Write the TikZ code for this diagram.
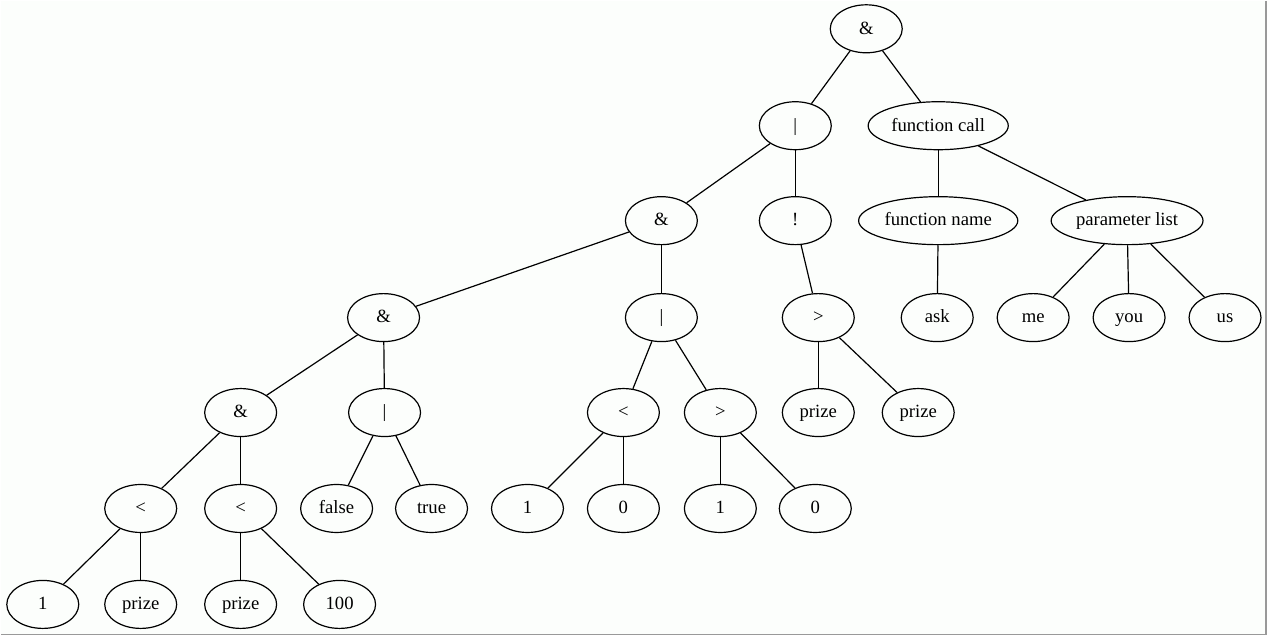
\documentclass[tikz,border=0pt]{standalone}
\usepackage{fontspec}
\setmainfont{Liberation Serif}
\usetikzlibrary{shapes.geometric}
\definecolor{pagebg}{RGB}{252,254,252}

\begin{document}
\begin{tikzpicture}[
    x=0.75pt,y=-0.75pt,
    tnode/.style={draw,ellipse,line width=0.9pt,
                  minimum width=54pt,minimum height=36pt,inner sep=2pt,
                  text height=11pt,text depth=3pt,
                  font=\fontsize{14}{16}\selectfont},
    tedge/.style={line width=0.9pt},
]

% page
\fill[pagebg] (0,0) rectangle (1267,635);
\draw[gray!80,line width=1.2pt] (1266.2,0) -- (1266.2,634.2) -- (0,634.2);
\useasboundingbox (0,0) rectangle (1267,635);

% rank 0 and 1
\node[tnode] (root)  at (866,28)   {\&};
\node[tnode] (or1)   at (795,125)  {|};
\node[tnode] (call)  at (938,125)  {function call};

% rank 2
\node[tnode] (and2)  at (661,220)  {\&};
\node[tnode] (not2)  at (795,220)  {!};
\node[tnode] (fname) at (938,220)  {function name};
\node[tnode] (plist) at (1127,220) {parameter list};

% rank 3
\node[tnode] (and3)  at (383,317)  {\&};
\node[tnode] (or3)   at (661,317)  {|};
\node[tnode] (gt3)   at (818,317)  {>};
\node[tnode] (ask)   at (937,317)  {ask};
\node[tnode] (me)    at (1033,317) {me};
\node[tnode] (you)   at (1129,317) {you};
\node[tnode] (us)    at (1225,317) {us};

% rank 4
\node[tnode] (and4)  at (240,412)  {\&};
\node[tnode] (or4)   at (384,412)  {|};
\node[tnode] (lt4)   at (623,412)  {<};
\node[tnode] (gt4)   at (720,412)  {>};
\node[tnode] (prizeA) at (818,412) {prize};
\node[tnode] (prizeB) at (918,412) {prize};

% rank 5
\node[tnode] (lt5a)  at (140,508)  {<};
\node[tnode] (lt5b)  at (240,508)  {<};
\node[tnode] (false) at (336,508)  {false};
\node[tnode] (true)  at (431,508)  {true};
\node[tnode] (oneA)  at (527,508)  {1};
\node[tnode] (zeroA) at (623,508)  {0};
\node[tnode] (oneB)  at (720,508)  {1};
\node[tnode] (zeroB) at (815,508)  {0};

% rank 6
\node[tnode] (one6)   at (42,604)  {1};
\node[tnode] (prizeC) at (140,604) {prize};
\node[tnode] (prizeD) at (240,604) {prize};
\node[tnode] (hund)   at (339,604) {100};

% edges, parent to child
\draw[tedge] (root) -- (or1);
\draw[tedge] (root) -- (call);
\draw[tedge] (or1) -- (and2);
\draw[tedge] (or1) -- (not2);
\draw[tedge] (call) -- (fname);
\draw[tedge] (call) -- (plist);
\draw[tedge] (and2) -- (and3);
\draw[tedge] (and2) -- (or3);
\draw[tedge] (not2) -- (gt3);
\draw[tedge] (fname) -- (ask);
\draw[tedge] (plist) -- (me);
\draw[tedge] (plist) -- (you);
\draw[tedge] (plist) -- (us);
\draw[tedge] (and3) -- (and4);
\draw[tedge] (and3) -- (or4);
\draw[tedge] (or3) -- (lt4);
\draw[tedge] (or3) -- (gt4);
\draw[tedge] (gt3) -- (prizeA);
\draw[tedge] (gt3) -- (prizeB);
\draw[tedge] (and4) -- (lt5a);
\draw[tedge] (and4) -- (lt5b);
\draw[tedge] (or4) -- (false);
\draw[tedge] (or4) -- (true);
\draw[tedge] (lt4) -- (oneA);
\draw[tedge] (lt4) -- (zeroA);
\draw[tedge] (gt4) -- (oneB);
\draw[tedge] (gt4) -- (zeroB);
\draw[tedge] (lt5a) -- (one6);
\draw[tedge] (lt5a) -- (prizeC);
\draw[tedge] (lt5b) -- (prizeD);
\draw[tedge] (lt5b) -- (hund);

\end{tikzpicture}
\end{document}
